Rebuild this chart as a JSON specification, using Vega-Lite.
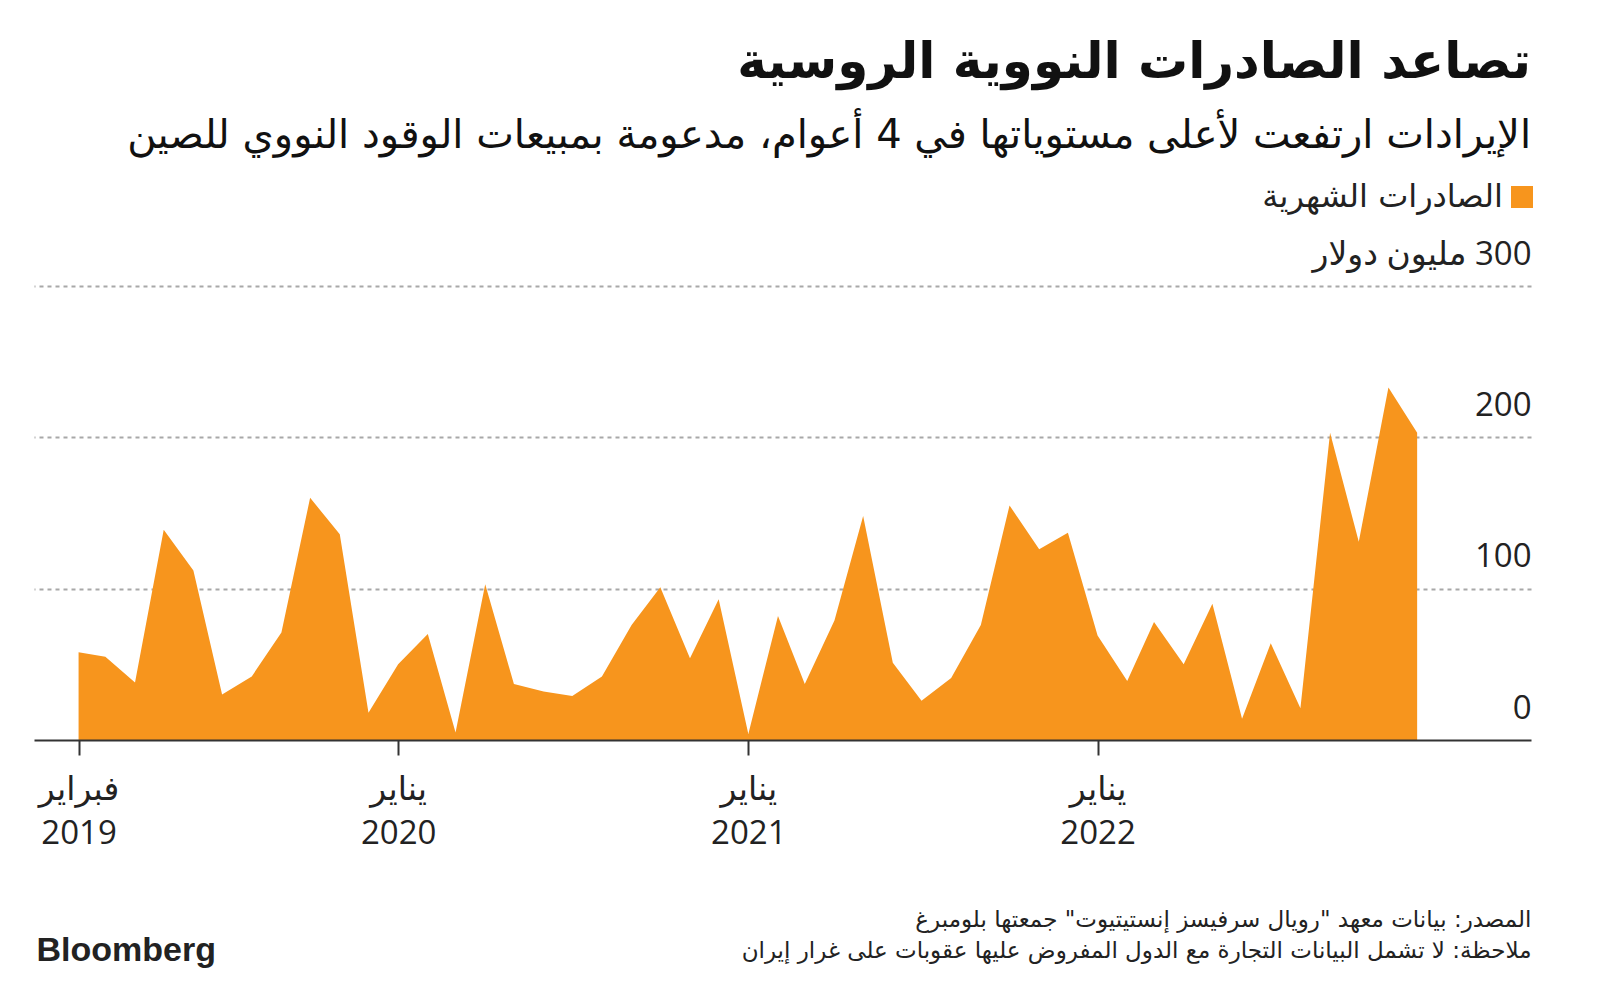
{
  "$schema": "https://vega.github.io/schema/vega-lite/v6.json",
  "width": 1497,
  "height": 454,
  "autosize": {"type": "none"},
  "padding": {"left": 34, "top": 286, "right": 69, "bottom": 241},
  "background": "white",
  "config": {"view": {"stroke": null}},
  "title": {
    "text": "تصاعد الصادرات النووية الروسية",
    "subtitle": "الإيرادات ارتفعت لأعلى مستوياتها في 4 أعوام، مدعومة بمبيعات الوقود النووي للصين",
    "anchor": "end",
    "frame": "group",
    "orient": "top",
    "offset": 25,
    "font": "DejaVu Sans",
    "fontSize": 50,
    "fontWeight": "bold",
    "color": "#111111",
    "subtitleFont": "DejaVu Sans",
    "subtitleFontSize": 40,
    "subtitleColor": "#111111",
    "subtitlePadding": 28,
    "limit": 0
  },
  "data": {
    "values": [
      {"date": "2019-02-01", "value": 58, "series": "الصادرات الشهرية"},
      {"date": "2019-03-01", "value": 55, "series": "الصادرات الشهرية"},
      {"date": "2019-04-01", "value": 38, "series": "الصادرات الشهرية"},
      {"date": "2019-05-01", "value": 139, "series": "الصادرات الشهرية"},
      {"date": "2019-06-01", "value": 112, "series": "الصادرات الشهرية"},
      {"date": "2019-07-01", "value": 30, "series": "الصادرات الشهرية"},
      {"date": "2019-08-01", "value": 42, "series": "الصادرات الشهرية"},
      {"date": "2019-09-01", "value": 71, "series": "الصادرات الشهرية"},
      {"date": "2019-10-01", "value": 160, "series": "الصادرات الشهرية"},
      {"date": "2019-11-01", "value": 136, "series": "الصادرات الشهرية"},
      {"date": "2019-12-01", "value": 18, "series": "الصادرات الشهرية"},
      {"date": "2020-01-01", "value": 50, "series": "الصادرات الشهرية"},
      {"date": "2020-02-01", "value": 70, "series": "الصادرات الشهرية"},
      {"date": "2020-03-01", "value": 5, "series": "الصادرات الشهرية"},
      {"date": "2020-04-01", "value": 103, "series": "الصادرات الشهرية"},
      {"date": "2020-05-01", "value": 37, "series": "الصادرات الشهرية"},
      {"date": "2020-06-01", "value": 32, "series": "الصادرات الشهرية"},
      {"date": "2020-07-01", "value": 29, "series": "الصادرات الشهرية"},
      {"date": "2020-08-01", "value": 42, "series": "الصادرات الشهرية"},
      {"date": "2020-09-01", "value": 76, "series": "الصادرات الشهرية"},
      {"date": "2020-10-01", "value": 101, "series": "الصادرات الشهرية"},
      {"date": "2020-11-01", "value": 54, "series": "الصادرات الشهرية"},
      {"date": "2020-12-01", "value": 93, "series": "الصادرات الشهرية"},
      {"date": "2021-01-01", "value": 4, "series": "الصادرات الشهرية"},
      {"date": "2021-02-01", "value": 82, "series": "الصادرات الشهرية"},
      {"date": "2021-03-01", "value": 37, "series": "الصادرات الشهرية"},
      {"date": "2021-04-01", "value": 79, "series": "الصادرات الشهرية"},
      {"date": "2021-05-01", "value": 148, "series": "الصادرات الشهرية"},
      {"date": "2021-06-01", "value": 51, "series": "الصادرات الشهرية"},
      {"date": "2021-07-01", "value": 26, "series": "الصادرات الشهرية"},
      {"date": "2021-08-01", "value": 41, "series": "الصادرات الشهرية"},
      {"date": "2021-09-01", "value": 76, "series": "الصادرات الشهرية"},
      {"date": "2021-10-01", "value": 155, "series": "الصادرات الشهرية"},
      {"date": "2021-11-01", "value": 126, "series": "الصادرات الشهرية"},
      {"date": "2021-12-01", "value": 137, "series": "الصادرات الشهرية"},
      {"date": "2022-01-01", "value": 69, "series": "الصادرات الشهرية"},
      {"date": "2022-02-01", "value": 39, "series": "الصادرات الشهرية"},
      {"date": "2022-03-01", "value": 78, "series": "الصادرات الشهرية"},
      {"date": "2022-04-01", "value": 50, "series": "الصادرات الشهرية"},
      {"date": "2022-05-01", "value": 90, "series": "الصادرات الشهرية"},
      {"date": "2022-06-01", "value": 14, "series": "الصادرات الشهرية"},
      {"date": "2022-07-01", "value": 64, "series": "الصادرات الشهرية"},
      {"date": "2022-08-01", "value": 21, "series": "الصادرات الشهرية"},
      {"date": "2022-09-01", "value": 203, "series": "الصادرات الشهرية"},
      {"date": "2022-10-01", "value": 131, "series": "الصادرات الشهرية"},
      {"date": "2022-11-01", "value": 233, "series": "الصادرات الشهرية"},
      {"date": "2022-12-01", "value": 203, "series": "الصادرات الشهرية"}
    ]
  },
  "mark": {"type": "area", "interpolate": "linear", "opacity": 1},
  "encoding": {
    "x": {
      "field": "date",
      "type": "temporal",
      "scale": {
        "type": "utc",
        "nice": false,
        "domain": [
          {"year": 2018, "month": 12, "date": 16, "hours": 10, "utc": true},
          {"year": 2023, "month": 3, "date": 30, "utc": true}
        ]
      },
      "axis": {
        "zindex": 1,
        "values": [
          {"year": 2019, "month": 2, "date": 1, "utc": true},
          {"year": 2020, "month": 1, "date": 1, "utc": true},
          {"year": 2021, "month": 1, "date": 1, "utc": true},
          {"year": 2022, "month": 1, "date": 1, "utc": true}
        ],
        "labelExpr": "[utcmonth(datum.value) == 1 ? 'فبراير' : 'يناير', '' + utcyear(datum.value)]",
        "labelFont": "Open Sans, DejaVu Sans",
        "labelFontSize": 33,
        "labelColor": "#222222",
        "labelLineHeight": 44,
        "labelBaseline": "alphabetic",
        "labelAlign": "center",
        "labelPadding": 44,
        "labelFlush": false,
        "labelOverlap": false,
        "labelBound": false,
        "labelLimit": 0,
        "domain": true,
        "domainColor": "#333333",
        "domainWidth": 2,
        "ticks": true,
        "tickColor": "#333333",
        "tickWidth": 2,
        "tickSize": 15,
        "grid": false,
        "title": [
          "المصدر: بيانات معهد \"رويال سرفيسز إنستيتيوت\" جمعتها بلومبرغ",
          "ملاحظة: لا تشمل البيانات التجارة مع الدول المفروض عليها عقوبات على غرار إيران"
        ],
        "titleX": 1497,
        "titleY": 186,
        "titleAlign": "right",
        "titleAnchor": null,
        "titleBaseline": "alphabetic",
        "titleAngle": 0,
        "titleFont": "DejaVu Sans",
        "titleFontSize": 23,
        "titleFontWeight": "normal",
        "titleColor": "#222222",
        "titleLineHeight": 31,
        "titleLimit": 0
      }
    },
    "y": {
      "field": "value",
      "type": "quantitative",
      "scale": {"domain": [0, 300], "nice": false, "zero": true},
      "axis": {
        "orient": "right",
        "values": [0, 100, 200, 300],
        "grid": true,
        "gridDash": [4, 4],
        "gridColor": "#a8a8a8",
        "gridWidth": 2,
        "gridOpacity": {"condition": {"test": "datum.value === 0", "value": 0}, "value": 1},
        "domain": false,
        "ticks": false,
        "tickSize": 0,
        "labelPadding": 0,
        "labelAlign": "right",
        "labelBaseline": "alphabetic",
        "labelOffset": -22,
        "labelFont": "Open Sans, DejaVu Sans",
        "labelFontSize": 33,
        "labelColor": "#222222",
        "labelFlush": false,
        "labelOverlap": false,
        "labelBound": false,
        "labelLimit": 0,
        "labelExpr": "datum.value == 300 ? '‏300 مليون دولار' : datum.label",
        "title": "Bloomberg",
        "titleX": -1495,
        "titleY": 674,
        "titleAngle": 0,
        "titleAlign": "left",
        "titleAnchor": null,
        "titleBaseline": "alphabetic",
        "titleFont": "Liberation Sans",
        "titleFontSize": 34,
        "titleFontWeight": "bold",
        "titleColor": "#222222",
        "titleLimit": 0
      }
    },
    "color": {
      "field": "series",
      "type": "nominal",
      "scale": {"range": ["#f7951d"]},
      "legend": {
        "orient": "none",
        "legendX": 1472,
        "legendY": -105,
        "title": null,
        "padding": 0,
        "symbolType": "square",
        "symbolSize": 484,
        "symbolStrokeWidth": 0,
        "symbolOpacity": 1,
        "labelAlign": "right",
        "labelOffset": -35,
        "labelLimit": 0,
        "labelFont": "DejaVu Sans",
        "labelFontSize": 32,
        "labelColor": "#222222"
      }
    }
  }
}
